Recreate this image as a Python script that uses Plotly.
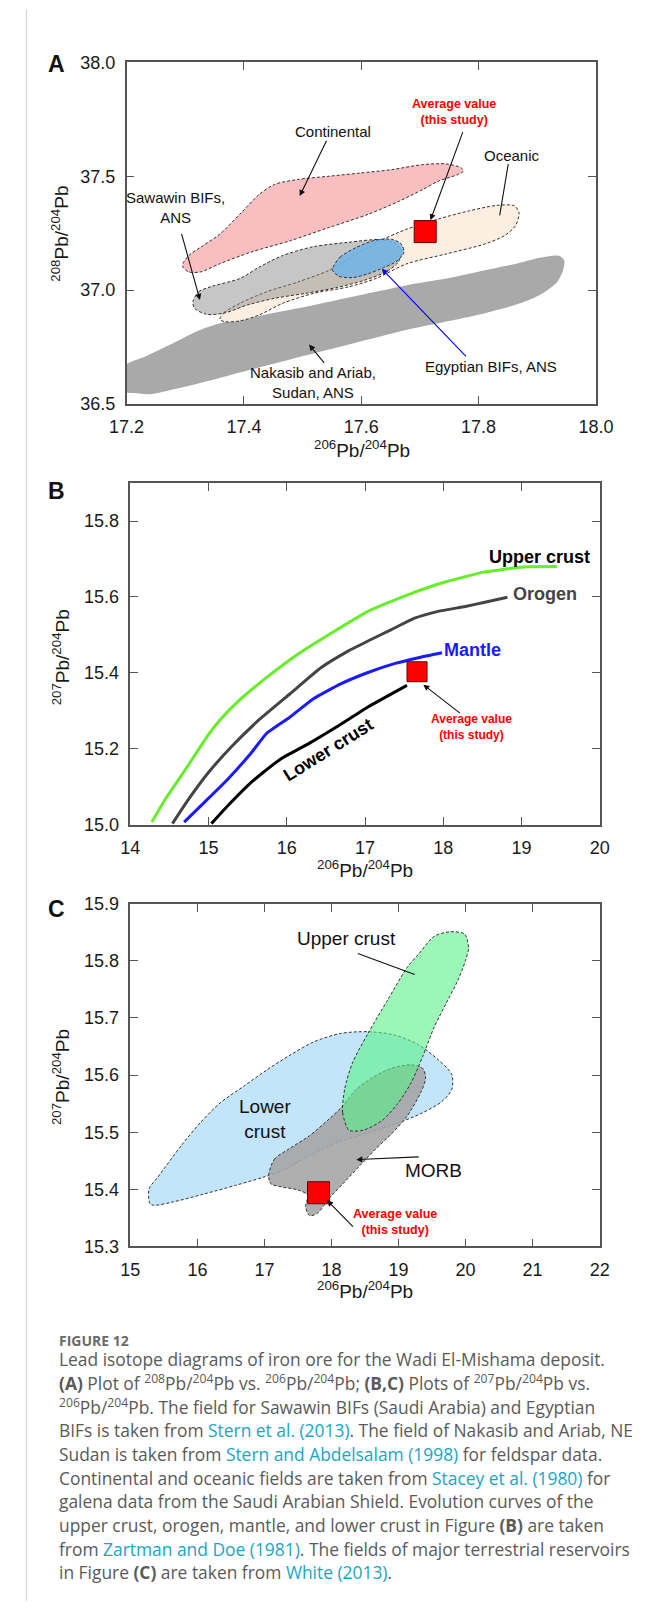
import plotly.graph_objects as go

W, H = 646, 1611

def px(x):
    return x / W

def py(y):
    return 1 - y / H

# ---------------- Panel A data (206Pb/204Pb vs 208Pb/204Pb) ----------------
cont_x = [17.296, 17.306, 17.326, 17.359, 17.393, 17.426, 17.452, 17.492, 17.545, 17.598, 17.652, 17.705,
          17.745, 17.771, 17.774, 17.764, 17.731, 17.705, 17.665, 17.612, 17.545, 17.479, 17.412, 17.359,
          17.326, 17.306, 17.296]
cont_y = [37.116, 37.152, 37.188, 37.246, 37.333, 37.420, 37.464, 37.486, 37.500, 37.514, 37.529, 37.551,
          37.554, 37.536, 37.522, 37.507, 37.478, 37.442, 37.391, 37.333, 37.275, 37.217, 37.167, 37.116,
          37.080, 37.080, 37.101]

ocean_x = [17.359, 17.366, 17.393, 17.439, 17.492, 17.545, 17.592, 17.632, 17.678, 17.731, 17.784, 17.831,
           17.861, 17.869, 17.863, 17.844, 17.811, 17.745, 17.678, 17.625, 17.578, 17.519, 17.466, 17.426,
           17.393, 17.366]
ocean_y = [36.873, 36.901, 36.942, 36.993, 37.036, 37.087, 37.159, 37.217, 37.268, 37.312, 37.348, 37.372,
           37.370, 37.341, 37.283, 37.239, 37.203, 37.159, 37.116, 37.051, 37.014, 36.986, 36.942, 36.891,
           36.865, 36.862]

saw_x = [17.313, 17.323, 17.346, 17.393, 17.426, 17.466, 17.519, 17.578, 17.632, 17.658, 17.669, 17.663,
         17.642, 17.605, 17.559, 17.505, 17.452, 17.406, 17.366, 17.336, 17.316]
saw_y = [36.949, 36.993, 37.017, 37.051, 37.101, 37.152, 37.191, 37.210, 37.222, 37.206, 37.174, 37.123,
         37.080, 37.043, 37.012, 36.986, 36.964, 36.935, 36.899, 36.894, 36.920]

egy_x = [17.552, 17.564, 17.592, 17.625, 17.652, 17.668, 17.673, 17.661, 17.638, 17.612, 17.585, 17.562, 17.551]
egy_y = [37.101, 37.145, 37.188, 37.220, 37.223, 37.203, 37.167, 37.128, 37.099, 37.072, 37.055, 37.061, 37.087]

nak_x = [17.195, 17.233, 17.280, 17.326, 17.366, 17.426, 17.492, 17.559, 17.625, 17.678, 17.745, 17.811,
         17.864, 17.904, 17.937, 17.946, 17.944, 17.934, 17.907, 17.871, 17.811, 17.745, 17.678, 17.612,
         17.545, 17.479, 17.412, 17.346, 17.286, 17.240, 17.213, 17.195]
nak_y = [36.664, 36.710, 36.768, 36.826, 36.859, 36.887, 36.920, 36.957, 36.993, 37.022, 37.051, 37.087,
         37.116, 37.142, 37.151, 37.130, 37.087, 37.036, 36.983, 36.942, 36.899, 36.862, 36.826, 36.783,
         36.739, 36.696, 36.652, 36.606, 36.568, 36.543, 36.548, 36.556]

avgA_x = [17.709]
avgA_y = [37.257]

# ---------------- Panel B data (evolution curves) ----------------
upper_x = [14.274, 14.448, 14.647, 14.871, 14.996, 15.145, 15.394, 15.743, 16.141, 16.540, 17.038, 17.536,
           18.034, 18.532, 19.030, 19.453]
upper_y = [15.007, 15.068, 15.128, 15.198, 15.237, 15.276, 15.328, 15.388, 15.449, 15.501, 15.562, 15.605,
           15.640, 15.666, 15.679, 15.680]
orogen_x = [14.538, 14.747, 14.996, 15.295, 15.643, 16.042, 16.440, 16.789, 17.038, 17.337, 17.635, 17.934,
            18.283, 18.532, 18.821]
orogen_y = [15.003, 15.068, 15.137, 15.206, 15.276, 15.345, 15.414, 15.458, 15.484, 15.514, 15.544, 15.562,
            15.575, 15.586, 15.599]
mantle_x = [14.687, 14.946, 15.245, 15.544, 15.743, 16.042, 16.341, 16.689, 17.038, 17.386, 17.685, 17.984]
mantle_y = [15.007, 15.059, 15.120, 15.189, 15.241, 15.284, 15.332, 15.371, 15.401, 15.425, 15.440, 15.453]
lower_x = [15.036, 15.245, 15.494, 15.693, 15.942, 16.291, 16.639, 17.038, 17.536]
lower_y = [15.003, 15.050, 15.102, 15.137, 15.176, 15.215, 15.258, 15.310, 15.367]

avgB_x = [17.665]
avgB_y = [15.403]

# ---------------- Panel C data (reservoir fields) ----------------
lc_x = [15.291, 15.279, 15.407, 15.755, 16.046, 16.336, 16.685, 17.034, 17.382, 17.731, 18.138, 18.544,
        18.951, 19.300, 19.590, 19.794, 19.794, 19.648, 19.358, 19.009, 18.544, 18.080, 17.673, 17.266,
        16.976, 16.569, 16.104, 15.639, 15.349]
lc_y = [15.375, 15.401, 15.421, 15.476, 15.517, 15.551, 15.580, 15.609, 15.635, 15.658, 15.673, 15.676,
        15.670, 15.653, 15.627, 15.601, 15.575, 15.554, 15.534, 15.517, 15.499, 15.482, 15.459, 15.433,
        15.421, 15.407, 15.392, 15.378, 15.372]

morb_x = [17.063, 17.150, 17.382, 17.673, 17.963, 18.167, 18.370, 18.603, 18.893, 19.184, 19.358, 19.404,
          19.329, 19.126, 18.893, 18.661, 18.428, 18.196, 17.963, 17.789, 17.673, 17.615, 17.644, 17.499,
          17.266, 17.092]
morb_y = [15.425, 15.453, 15.472, 15.494, 15.523, 15.546, 15.575, 15.595, 15.612, 15.618, 15.612, 15.595,
          15.569, 15.528, 15.497, 15.471, 15.442, 15.413, 15.384, 15.358, 15.354, 15.369, 15.390, 15.399,
          15.404, 15.410]

uc_x = [18.254, 18.167, 18.196, 18.312, 18.544, 18.835, 19.126, 19.300, 19.532, 19.765, 19.985, 20.044,
        19.997, 19.881, 19.707, 19.532, 19.358, 19.184, 18.980, 18.748, 18.486, 18.312]
uc_y = [15.504, 15.534, 15.575, 15.621, 15.673, 15.731, 15.788, 15.812, 15.843, 15.851, 15.847, 15.823,
        15.800, 15.765, 15.725, 15.684, 15.632, 15.586, 15.549, 15.520, 15.504, 15.502]

avgC_x = [17.807]
avgC_y = [15.394]

# ---------------- Figure ----------------
FONT = "Arial, Liberation Sans, sans-serif"
fig = go.Figure()

def closed(a):
    return list(a) + [a[0]]

def field(xs, ys, fill, xa, ya, outline=True):
    fig.add_trace(go.Scatter(
        x=closed(xs), y=closed(ys), xaxis=xa, yaxis=ya, mode="lines", fill="toself",
        fillcolor=fill, hoverinfo="skip",
        line=dict(color="#333333" if outline else "rgba(0,0,0,0)", width=1, dash="3px,2px",
                  shape="spline", smoothing=0.8)))

def square(xs, ys, size, xa, ya):
    fig.add_trace(go.Scatter(x=xs, y=ys, xaxis=xa, yaxis=ya, mode="markers",
                             marker=dict(symbol="square", size=size, color="#ff0000",
                                         line=dict(color="#5a0000", width=1)), hoverinfo="skip"))

# Panel A
field(nak_x, nak_y, "#a9a9a9", "x", "y", outline=False)
field(cont_x, cont_y, "#f9bfc0", "x", "y")
field(ocean_x, ocean_y, "#fcefe1", "x", "y")
field(saw_x, saw_y, "rgba(135,135,135,0.48)", "x", "y")
field(egy_x, egy_y, "rgba(110,180,232,0.85)", "x", "y")
square(avgA_x, avgA_y, 22, "x", "y")

# Panel B
for xs, ys, c in [(upper_x, upper_y, "#66ee2a"), (orogen_x, orogen_y, "#444444"),
                  (mantle_x, mantle_y, "#1a1aff"), (lower_x, lower_y, "#000000")]:
    fig.add_trace(go.Scatter(x=xs, y=ys, xaxis="x2", yaxis="y2", mode="lines",
                             line=dict(color=c, width=3, shape="spline", smoothing=0.45), hoverinfo="skip"))
square(avgB_x, avgB_y, 20, "x2", "y2")

# Panel C
field(lc_x, lc_y, "#c2e5fb", "x3", "y3")
field(morb_x, morb_y, "rgba(165,165,165,0.9)", "x3", "y3")
field(uc_x, uc_y, "rgba(90,240,135,0.6)", "x3", "y3")
square(avgC_x, avgC_y, 22, "x3", "y3")

axis_common = dict(showline=True, mirror="ticks", ticks="inside", ticklen=8, tickwidth=1.3,
                   linecolor="#555555", linewidth=1.5, tickcolor="#555555", showgrid=False,
                   zeroline=False, tickfont=dict(family=FONT, size=18, color="#1a1a1a"),
                   ticklabelstandoff=6)

A_dom = ([px(115), px(612)], [py(399), py(53)])
B_dom = ([px(119), px(616)], [py(825), py(479)])
C_dom = ([px(119), px(616)], [py(1252), py(905)])

fig.update_layout(
    width=W, height=H, margin=dict(l=0, r=0, t=0, b=0, pad=0),
    paper_bgcolor="white", plot_bgcolor="white", showlegend=False,
    xaxis=dict(domain=A_dom[0], anchor="y", range=[17.2, 18.0], dtick=0.2, tickformat=".1f", **axis_common),
    yaxis=dict(domain=A_dom[1], anchor="x", range=[36.5, 38.0], dtick=0.5, tickformat=".1f", **axis_common),
    xaxis2=dict(domain=B_dom[0], anchor="y2", range=[14, 20], dtick=1, **axis_common),
    yaxis2=dict(domain=B_dom[1], anchor="x2", range=[15.0, 15.9],
                tickvals=[15.0, 15.2, 15.4, 15.6, 15.8], tickformat=".1f", **axis_common),
    xaxis3=dict(domain=C_dom[0], anchor="y3", range=[15, 22], dtick=1, **axis_common),
    yaxis3=dict(domain=C_dom[1], anchor="x3", range=[15.3, 15.9], dtick=0.1, tickformat=".1f", **axis_common),
)

ann = []

def txt(x, y, s, xr, yr, size=15, color="#111", bold=False, angle=0, align="center"):
    ann.append(dict(x=x, y=y, xref=xr, yref=yr, text=("<b>%s</b>" % s) if bold else s,
                    showarrow=False, textangle=angle, align=align,
                    font=dict(family=FONT, size=size, color=color)))

def arrow(x, y, ax, ay, xr, yr, color="#111", head=2):
    ann.append(dict(x=x, y=y, ax=ax, ay=ay, xref=xr, yref=yr, axref=xr, ayref=yr, text="",
                    showarrow=True, arrowhead=head, arrowsize=1.1, arrowwidth=1.1, arrowcolor=color,
                    standoff=0, startstandoff=0))

# Panel A labels
txt(17.552, 37.696, "Continental", "x", "y")
arrow(17.495, 37.413, 17.542, 37.662, "x", "y")
txt(17.758, 37.780, "Average value<br>(this study)", "x", "y", size=12.5, color="#ff0000", bold=True)
arrow(17.718, 37.307, 17.774, 37.700, "x", "y")
txt(17.857, 37.591, "Oceanic", "x", "y")
arrow(17.836, 37.328, 17.851, 37.560, "x", "y", head=0)
txt(17.283, 37.362, "Sawawin BIFs,<br>ANS", "x", "y")
arrow(17.325, 36.957, 17.293, 37.254, "x", "y")
txt(17.517, 36.594, "Nakasib and Ariab,<br>Sudan, ANS", "x", "y")
arrow(17.511, 36.761, 17.539, 36.674, "x", "y")
txt(17.821, 36.667, "Egyptian BIFs, ANS", "x", "y")
arrow(17.635, 37.094, 17.781, 36.703, "x", "y", color="#0000ff")

# Panel B labels
txt(19.229, 15.706, "Upper crust", "x2", "y2", size=18, color="#000", bold=True)
txt(19.304, 15.607, "Orogen", "x2", "y2", size=18, color="#444444", bold=True)
txt(18.373, 15.460, "Mantle", "x2", "y2", size=18, color="#1a1aff", bold=True)
txt(16.525, 15.198, "Lower crust", "x2", "y2", size=18, color="#000", bold=True, angle=-32)
txt(18.358, 15.258, "Average value<br>(this study)", "x2", "y2", size=12, color="#ff0000", bold=True)
arrow(17.745, 15.369, 18.233, 15.291, "x2", "y2")

# Panel C labels
txt(18.225, 15.839, "Upper crust", "x3", "y3", size=19)
arrow(19.242, 15.776, 18.370, 15.814, "x3", "y3", head=0)
txt(17.005, 15.523, "Lower<br>crust", "x3", "y3", size=19)
txt(19.521, 15.433, "MORB", "x3", "y3", size=19)
arrow(18.370, 15.452, 19.323, 15.457, "x3", "y3")
txt(18.940, 15.343, "Average value<br>(this study)", "x3", "y3", size=12.5, color="#ff0000", bold=True)
arrow(17.934, 15.381, 18.341, 15.332, "x3", "y3")

# axis titles and panel letters (paper coordinates)
ratio208 = "<sup>208</sup>Pb/<sup>204</sup>Pb"
ratio207 = "<sup>207</sup>Pb/<sup>204</sup>Pb"
ratio206 = "<sup>206</sup>Pb/<sup>204</sup>Pb"
for (x, y, s, ang) in [(364, 445, ratio206, 0), (45, 226, ratio208, -90),
                       (368, 870, ratio206, 0), (45, 655, ratio207, -90),
                       (368, 1296, ratio206, 0), (45, 1080, ratio207, -90)]:
    ann.append(dict(x=px(x), y=py(y), xref="paper", yref="paper", text=s, showarrow=False,
                    textangle=ang, xanchor="center", yanchor="middle",
                    font=dict(family=FONT, size=19, color="#1a1a1a")))
for (x, y, s) in [(41, 55, "A"), (41, 487, "B"), (41, 910, "C")]:
    ann.append(dict(x=px(x), y=py(y), xref="paper", yref="paper", text="<b>%s</b>" % s,
                    showarrow=False, xanchor="center", yanchor="middle",
                    font=dict(family=FONT, size=23, color="#111")))

# caption
LINK = "#1aa5c6"
def link(s):
    return "<span style='color:%s'>%s</span>" % (LINK, s)

cap_lines = [
    "Lead isotope diagrams of iron ore for the Wadi El-Mishama deposit.",
    "<b>(A)</b> Plot of <sup>208</sup>Pb/<sup>204</sup>Pb vs. <sup>206</sup>Pb/<sup>204</sup>Pb; "
    "<b>(B,C)</b> Plots of <sup>207</sup>Pb/<sup>204</sup>Pb vs.",
    "<sup>206</sup>Pb/<sup>204</sup>Pb. The field for Sawawin BIFs (Saudi Arabia) and Egyptian",
    "BIFs is taken from " + link("Stern et al. (2013)") + ". The field of Nakasib and Ariab, NE",
    "Sudan is taken from " + link("Stern and Abdelsalam (1998)") + " for feldspar data.",
    "Continental and oceanic fields are taken from " + link("Stacey et al. (1980)") + " for",
    "galena data from the Saudi Arabian Shield. Evolution curves of the",
    "upper crust, orogen, mantle, and lower crust in Figure <b>(B)</b> are taken",
    "from " + link("Zartman and Doe (1981)") + ". The fields of major terrestrial reservoirs",
    "in Figure <b>(C)</b> are taken from " + link("White (2013)") + ".",
]
ann.append(dict(x=px(41), y=py(1347), xref="paper", yref="paper", text="<b>FIGURE 12</b>",
                showarrow=False, xanchor="left", yanchor="middle",
                font=dict(family="Open Sans, sans-serif", size=14, color="#6a6a6a")))
for i, s in enumerate(cap_lines):
    ann.append(dict(x=px(41), y=py(1366 + 24 * i), xref="paper", yref="paper", text=s,
                    showarrow=False, xanchor="left", yanchor="middle",
                    font=dict(family="Open Sans, sans-serif", size=17.4, color="#5a5a5a")))

fig.update_layout(annotations=ann)

# page border line at left
fig.add_shape(type="line", xref="paper", yref="paper", x0=px(9), x1=px(9), y0=0, y1=1,
              line=dict(color="#d4d4d4", width=1.2))

fig.write_html("out.html", config={"displayModeBar": False},
               post_script="document.body.style.margin='0';document.body.style.overflow='hidden';")
